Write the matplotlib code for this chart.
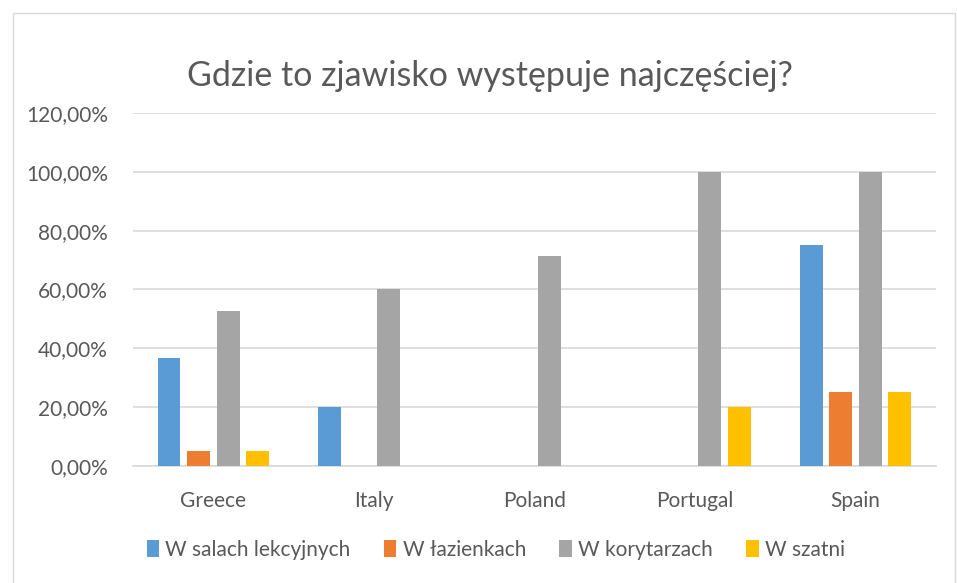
import numpy as np
import matplotlib.pyplot as plt
from matplotlib.patches import Rectangle
from matplotlib.ticker import FuncFormatter

plt.rcParams['font.family'] = ['Lato', 'DejaVu Sans']

countries = ['Greece', 'Italy', 'Poland', 'Portugal', 'Spain']
series_names = ['W salach lekcyjnych', 'W łazienkach', 'W korytarzach', 'W szatni']
salach = [0.3684, 0.20, 0.0, 0.0, 0.75]
lazienkach = [0.0526, 0.0, 0.0, 0.0, 0.25]
korytarzach = [0.5263, 0.60, 0.7143, 1.00, 1.00]
szatni = [0.0526, 0.0, 0.0, 0.20, 0.25]
colors = ['#5b9bd5', '#ed7d31', '#a5a5a5', '#ffc000']

fig = plt.figure(figsize=(9.57, 5.83), dpi=100)
ax = fig.add_axes([0.139, 0.2007, 0.839, 0.6055])

# light frame around the chart
fig.patches.append(Rectangle((13 / 957, -0.01), (955 - 13) / 957, 1 - 13 / 583 + 0.01,
                             transform=fig.transFigure, fill=False,
                             edgecolor='#d9d9d9', linewidth=1))

x = np.arange(len(countries))
step = 0.184
width = 0.143
for i, (vals, name, c) in enumerate(zip([salach, lazienkach, korytarzach, szatni], series_names, colors)):
    ax.bar(x + (i - 1.5) * step, vals, width, color=c, label=name, zorder=3)

ax.set_xlim(-0.5, len(countries) - 0.5)
ax.set_ylim(0, 1.2)
ax.set_yticks(np.arange(0, 1.21, 0.2))
ax.yaxis.set_major_formatter(FuncFormatter(lambda v, p: f"{v * 100:.2f}%".replace('.', ',')))
ax.set_xticks(x)
ax.set_xticklabels(countries)
ax.tick_params(axis='both', length=0, labelsize=15, labelcolor='#595959')
ax.tick_params(axis='x', pad=18)
ax.tick_params(axis='y', pad=18)
ax.grid(axis='y', color='#d9d9d9', linewidth=1.2, zorder=0)
for s in ['top', 'right', 'left']:
    ax.spines[s].set_visible(False)
ax.spines['bottom'].set_color('#d9d9d9')
ax.spines['bottom'].set_linewidth(1.2)

fig.text(0.512, 0.87, 'Gdzie to zjawisko występuje najczęściej?', ha='center', va='center',
         fontsize=24.5, color='#595959')

fig.legend(loc='center', bbox_to_anchor=(0.518, 0.057), ncol=4, frameon=False,
           fontsize=15, labelcolor='#595959', handlelength=0.6, handleheight=0.9,
           handletextpad=0.3, columnspacing=1.6)

fig.savefig('out.png', dpi=100)
